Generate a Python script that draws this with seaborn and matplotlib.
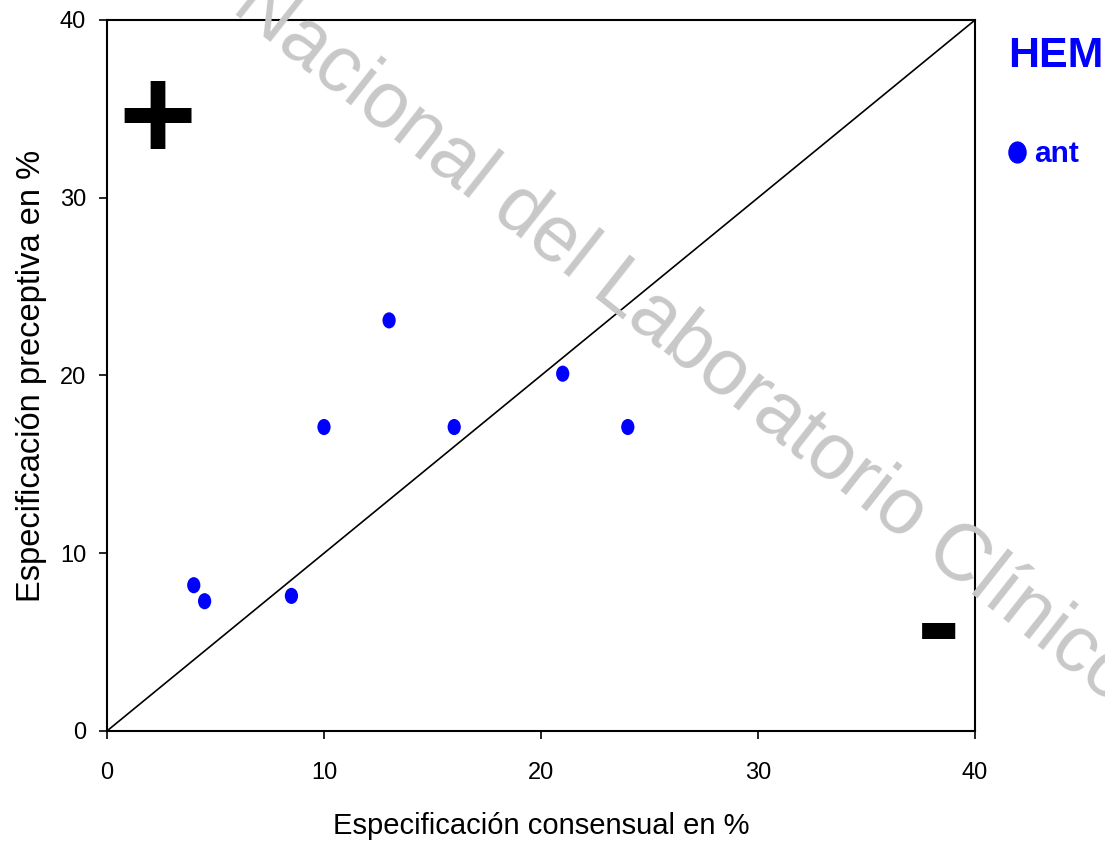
import matplotlib
matplotlib.use("Agg")
import matplotlib.pyplot as plt
from matplotlib.path import Path
from matplotlib.transforms import Affine2D
import seaborn as sns
import pandas as pd

consensual = [4.0, 4.5, 8.5, 10.0, 13.0, 16.0, 21.0, 24.0]
preceptiva = [8.2, 7.3, 7.6, 17.1, 23.1, 17.1, 20.1, 17.1]
ticks = [0, 10, 20, 30, 40]
series_name = "ant"
group_title = "HEM"
blue = "#0000ff"

sns.set_theme(style="white")
plt.rcParams['font.family'] = ['Liberation Sans', 'DejaVu Sans']

fig = plt.figure(figsize=(11.05, 8.47), dpi=100)
ax = fig.add_axes([0.0968, 0.1370, 0.7856, 0.8394])

ellipse = Path.unit_circle().transformed(Affine2D().scale(0.82, 1.0))

df = pd.DataFrame({"x": consensual, "y": preceptiva})
ax.plot([0, 40], [0, 40], color="black", lw=1.2, zorder=2)
sns.scatterplot(data=df, x="x", y="y", ax=ax, color=blue, s=135, marker=ellipse,
                edgecolor="none", zorder=3, legend=False)

ax.set_xlim(0, 40)
ax.set_ylim(0, 40)
ax.set_xticks(ticks)
ax.set_yticks(ticks)
ax.tick_params(axis="both", direction="out", length=6, width=1.2, colors="black",
               labelsize=17, bottom=True, left=True)
ax.tick_params(axis="x", pad=16)
ax.tick_params(axis="y", pad=9)
for s in ax.spines.values():
    s.set_color("black")
    s.set_linewidth(1.5)
ax.set_xlabel("Especificación consensual en %", fontsize=21, color="black")
ax.set_ylabel("Especificación preceptiva en %", fontsize=23.5, color="black")
ax.xaxis.set_label_coords(0.5, -0.114)
ax.yaxis.set_label_coords(-0.069, 0.5)

ax.text(0.058, 0.852, "+", transform=ax.transAxes, fontsize=96, fontweight="bold",
        ha="center", va="center", color="black")
ax.text(0.958, 0.142, "-", transform=ax.transAxes, fontsize=94,
        fontweight="bold", ha="center", va="center", color="black")

# legend-like block
fig.text(0.912, 0.934, group_title, fontsize=31, fontweight="bold",
         color=blue, ha="left", va="center")
ax.plot([1.048], [0.814], transform=ax.transAxes, marker=ellipse, ms=15,
        color=blue, clip_on=False, ls="none")
fig.text(0.936, 0.818, series_name, fontsize=21.5, fontweight="bold",
         color=blue, ha="left", va="center")

# watermark
fig.text(0.516, 0.703, "Colegio Nacional del Laboratorio Clínico", fontsize=57,
         color="#c8c8c8", rotation=-38.2, rotation_mode="anchor",
         ha="center", va="center", zorder=0)

fig.savefig("out.png", dpi=100)
